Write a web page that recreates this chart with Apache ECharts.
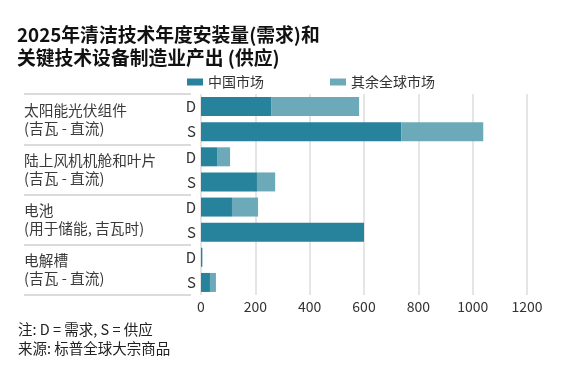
<!DOCTYPE html>
<html><head><meta charset="utf-8">
<script src="https://cdn.jsdelivr.net/npm/echarts@6/dist/echarts.min.js"></script>
<style>html,body{margin:0;padding:0;background:#fff}#c{width:565px;height:371px}</style>
</head><body><div id="c"></div>
<script>
var groups = ['太阳能光伏组件\n(吉瓦 - 直流)', '陆上风机机舱和叶片\n(吉瓦 - 直流)', '电池\n(用于储能, 吉瓦时)', '电解槽\n(吉瓦 - 直流)'];
var rows = ['D', 'S', 'D', 'S', 'D', 'S', 'D', 'S'];
var china = [258, 737, 59, 206, 114, 600, 5, 33];
var rest = [324, 302, 48, 67, 96, 0, 0, 22];
var xTicks = [0, 200, 400, 600, 800, 1000, 1200];
var seriesNames = ['中国市场', '其余全球市场'];
var titleText = '2025年清洁技术年度安装量(需求)和\n关键技术设备制造业产出 (供应)';
var noteText = '注: D = 需求, S = 供应\n来源: 标普全球大宗商品';

var FONT = '"Noto Sans CJK SC", "Noto Sans", sans-serif';
var chart = echarts.init(document.getElementById('c'), null, {renderer: 'canvas'});
chart.setOption({
  animation: false,
  textStyle: {fontFamily: FONT},
  title: [
    {text: titleText, left: 17, top: 23, padding: 0,
     textStyle: {fontSize: 18.8, fontWeight: 'bold', color: '#111', lineHeight: 23, fontFamily: FONT}},
    {text: noteText, left: 18, top: 320, padding: 0,
     textStyle: {fontSize: 14.5, fontWeight: 'normal', color: '#222', lineHeight: 19, fontFamily: FONT}}
  ],
  legend: {
    data: seriesNames, left: 187, top: 75, padding: 0, itemWidth: 16, itemHeight: 7, itemGap: 66,
    icon: 'rect', textStyle: {fontSize: 14, color: '#333', fontFamily: FONT}
  },
  grid: {left: 201, right: 38, top: 94, bottom: 76, containLabel: false},
  xAxis: {
    type: 'value', min: xTicks[0], max: xTicks[xTicks.length - 1], interval: 200,
    axisLine: {show: false}, axisTick: {show: false},
    axisLabel: {fontSize: 14, color: '#333', margin: 5, fontFamily: FONT,
                formatter: function (v) { return String(v); }},
    splitLine: {show: true, lineStyle: {color: '#dcdcdc', width: 1.5}}
  },
  yAxis: [
    {type: 'category', data: rows, inverse: true,
     axisLine: {show: false}, axisTick: {show: false},
     axisLabel: {fontSize: 15, color: '#333', margin: 5, fontFamily: FONT}},
    {type: 'category', data: groups, inverse: true, position: 'left', offset: 10,
     axisLine: {show: false},
     axisTick: {show: true, length: 167, inside: false, lineStyle: {color: '#d0d0d0', width: 1.5}},
     axisLabel: {fontSize: 14.7, color: '#3a3a3a', align: 'left', margin: 167, lineHeight: 18,
                 padding: [0, 0, 3, 0], fontFamily: FONT}}
  ],
  series: [
    {name: seriesNames[0], type: 'bar', stack: 'a', yAxisIndex: 0, data: china,
     barWidth: 19, itemStyle: {color: '#26839b'}},
    {name: seriesNames[1], type: 'bar', stack: 'a', yAxisIndex: 0, data: rest,
     barWidth: 19, itemStyle: {color: '#6caab9'}}
  ]
});
</script></body></html>
